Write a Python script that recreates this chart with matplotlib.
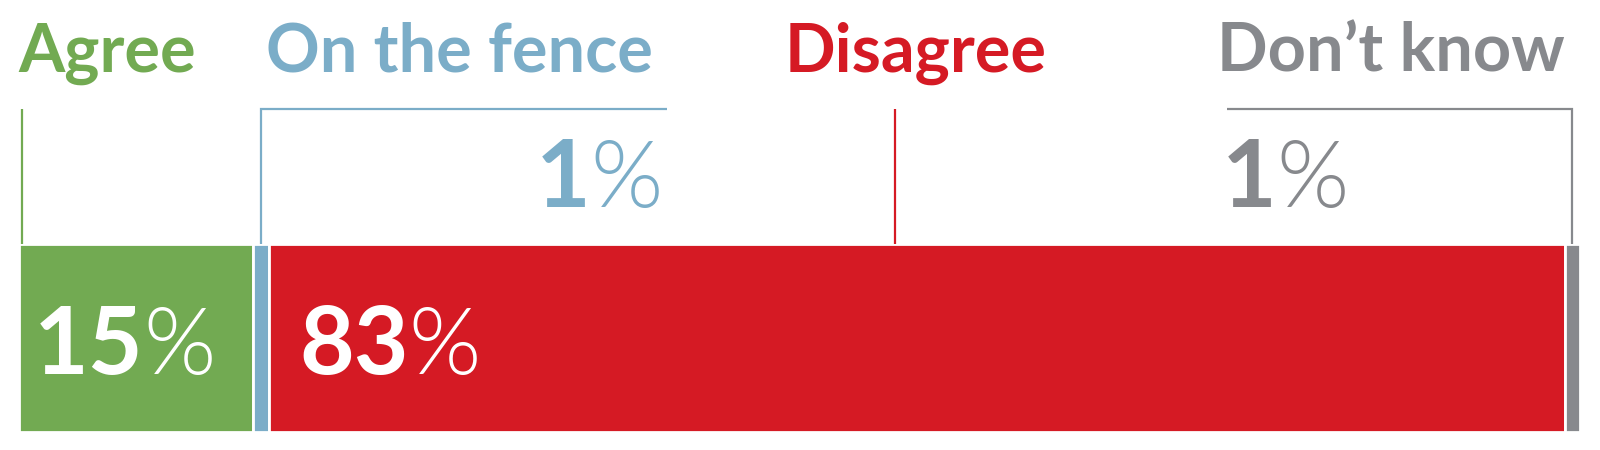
import matplotlib
matplotlib.use("Agg")
import matplotlib.pyplot as plt
import matplotlib.transforms as mtransforms

# ---- data ----
categories = ["Agree", "On the fence", "Disagree", "Don\u2019t know"]
values = [15, 1, 83, 1]
value_labels = ["15", "1", "83", "1"]
colors = ["#72AA52", "#7BADC8", "#D51A24", "#87898D"]

W, H = 1600, 450
fig = plt.figure(figsize=(W / 100, H / 100), dpi=100)
fig.patch.set_facecolor("white")

# axes: x in percent, y in pixel rows (top = 0)
x0_px, x1_px = 19.2, 1580.2
ax = fig.add_axes([x0_px / W, 0, (x1_px - x0_px) / W, 1])
ax.set_xlim(0, 100)
ax.set_ylim(H, 0)
ax.axis("off")

# pixel transform (top-left origin)
px = mtransforms.Affine2D().scale(1 / W, -1 / H).translate(0, 1) + fig.transFigure

# ---- stacked bar ----
bar_top, bar_bot = 243.8, 432.2
lefts = [sum(values[:i]) for i in range(len(values))]
ax.barh([(bar_top + bar_bot) / 2] * len(values), values, left=lefts,
        height=bar_bot - bar_top, color=colors, edgecolor="white",
        linewidth=2.0)

FAM = "Lato"
lw = 1.6
ytop = 109

# ---- leader lines ----
ax.plot([0.2, 0.2], [ytop, bar_top], color=colors[0], lw=lw, solid_capstyle="butt")
fx = lefts[1] + values[1] / 2
ax.plot([fx, fx, 41.5], [bar_top, ytop, ytop], color=colors[1], lw=lw,
        solid_joinstyle="miter", solid_capstyle="butt")
ax.plot([56.1, 56.1], [ytop, bar_top], color=colors[2], lw=lw, solid_capstyle="butt")
gx = lefts[3] + values[3] / 2
ax.plot([77.4, gx, gx], [ytop, ytop, bar_top], color=colors[3], lw=lw,
        solid_joinstyle="miter", solid_capstyle="butt")

# ---- headers ----
head_size = 48
head_pos = [(18, "left"), (266, "left"), (785, "left"), (1565, "right")]
for (hx, ha), cat, c in zip(head_pos, categories, colors):
    fig.text(hx, 72, cat, transform=px, ha=ha, va="baseline", color=c,
             fontsize=head_size, fontfamily=FAM, fontweight="bold")

# ---- value labels ----
num_size = 68
pct_size = 67
NUM_W = 700
PCT_W = 300


def label_left(x, y, num, color):
    t = fig.text(x, y, num, transform=px, ha="left", va="baseline",
                 color=color, fontsize=num_size, fontfamily=FAM, fontweight=NUM_W)
    ax.annotate("%", xy=(1, 0), xycoords=t, xytext=(0, 0),
                textcoords="offset points", ha="left", va="bottom",
                color=color, fontsize=pct_size, fontfamily=FAM,
                fontweight=PCT_W, annotation_clip=False)


def label_right(x, y, num, color):
    p = fig.text(x, y, "%", transform=px, ha="right", va="baseline",
                 color=color, fontsize=pct_size, fontfamily=FAM, fontweight=PCT_W)
    ax.annotate(num, xy=(0, 0), xycoords=p, xytext=(0, 0),
                textcoords="offset points", ha="right", va="bottom",
                color=color, fontsize=num_size, fontfamily=FAM,
                fontweight=NUM_W, annotation_clip=False)


label_left(34, 374, value_labels[0], "white")
label_right(663, 207, value_labels[1], colors[1])
label_left(299, 374, value_labels[2], "white")
label_left(1222, 207, value_labels[3], colors[3])

fig.savefig("out.png", dpi=100, facecolor="white")
